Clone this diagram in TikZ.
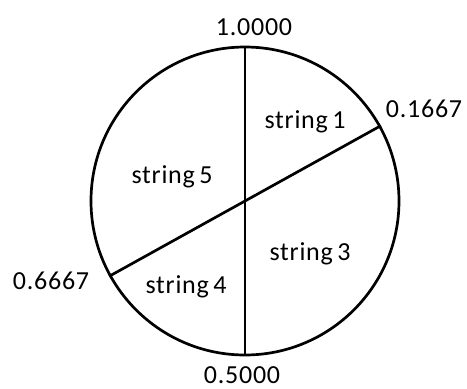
\documentclass[tikz,border=0pt]{standalone}
\usepackage{fontspec}
\setmainfont{Carlito}[LetterSpace=3]
\begin{document}
\begin{tikzpicture}[x=1pt,y=-1pt,
  lbl/.style={inner sep=0pt, font=\fontsize{26}{30}\selectfont},
  ln/.style={line width=2.7pt}]
\useasboundingbox (0,0) rectangle (467,389);
\coordinate (c) at (245,201);
\node[draw, circle, ln, minimum size=308pt, inner sep=0pt] (circ) at (c) {};
\draw[ln] (circ.north) -- (circ.south);
\draw[ln] (circ.29) -- (circ.209);
\node[lbl] (t1) at (254,27) {1.0000};
\node[lbl] (t2) at (424,109) {0.1667};
\node[lbl] (t3) at (51,281) {0.6667};
\node[lbl] (t4) at (242,375) {0.5000};
\node[lbl] (s1) at (305,122) {string\,1};
\node[lbl] (s5) at (172,177) {string\,5};
\node[lbl] (s3) at (310,254) {string\,3};
\node[lbl] (s4) at (186,287) {string\,4};
\end{tikzpicture}
\end{document}
